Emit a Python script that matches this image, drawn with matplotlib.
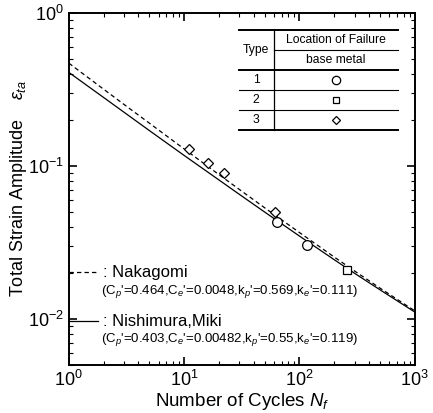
import matplotlib
matplotlib.use("Agg")
import matplotlib.pyplot as plt
from matplotlib.lines import Line2D

plt.rcParams['font.family'] = ['Liberation Sans', 'DejaVu Sans']
plt.rcParams['mathtext.fontset'] = 'custom'
plt.rcParams['mathtext.rm'] = 'Liberation Sans'
plt.rcParams['mathtext.it'] = 'Liberation Sans:italic'
plt.rcParams['axes.unicode_minus'] = False

# Fitted curves
n_cycles = [1, 2, 3, 5, 10, 20, 30, 50, 100, 200, 300, 500, 1000]
nakagomi = [0.469, 0.317, 0.2525, 0.190, 0.129, 0.0878, 0.0703, 0.0532,
            0.0367, 0.0254, 0.0206, 0.0159, 0.0113]
nishimura = [0.408, 0.280, 0.2245, 0.170, 0.117, 0.0810, 0.0653, 0.0499,
             0.0348, 0.0244, 0.0199, 0.0155, 0.0111]

# Test data
type1_n = [63.6, 115.8]
type1_e = [0.043, 0.0305]
type2_n = [257]
type2_e = [0.0209]
type3_n = [11.0, 16.0, 22.1, 61.1]
type3_e = [0.129, 0.105, 0.090, 0.050]

fig = plt.figure(figsize=(4.33, 4.13), dpi=100)
ax = fig.add_axes([0.159, 0.116, 0.799, 0.853])

ax.plot(n_cycles, nakagomi, 'k', linestyle=(0, (3.5, 2.5)), linewidth=0.9)
ax.plot(n_cycles, nishimura, 'k', linestyle='-', linewidth=0.9)

mk = dict(linestyle='none', markerfacecolor='white', markeredgecolor='black',
          markeredgewidth=0.9)
ax.plot(type1_n, type1_e, marker='o', markersize=7, **mk)
ax.plot(type2_n, type2_e, marker='s', markersize=5.5, **mk)
ax.plot(type3_n, type3_e, marker='D', markersize=5.5, **mk)

ax.set_xscale('log')
ax.set_yscale('log')
ax.set_xlim(1, 1000)
ax.set_ylim(0.005, 1)
ax.tick_params(which='both', direction='in', top=True, right=True, labelsize=13)
ax.tick_params(which='major', length=6, width=1.2)
ax.tick_params(which='minor', length=3, width=0.8)
for s in ax.spines.values():
    s.set_linewidth(1.4)

ax.set_xlabel('Number of Cycles $N_f$', fontsize=13.5, labelpad=1)
ax.set_ylabel('Total Strain Amplitude    $\\varepsilon_{ta}$', fontsize=13, labelpad=-1)

# Legend written by hand
tr = ax.transAxes
ax.add_line(Line2D([0.0, 0.085], [0.263, 0.263], transform=tr, color='k',
                   linestyle=(0, (3.5, 2.5)), linewidth=0.9))
ax.text(0.1, 0.263, ': Nakagomi', transform=tr, fontsize=12, va='center')
ax.text(0.094, 0.21,
        "(C$_p$'=0.464,C$_e$'=0.0048,k$_p$'=0.569,k$_e$'=0.111)",
        transform=tr, fontsize=9.5, va='center')
ax.add_line(Line2D([0.0, 0.085], [0.124, 0.124], transform=tr, color='k',
                   linestyle='-', linewidth=0.9))
ax.text(0.1, 0.124, ': Nishimura,Miki', transform=tr, fontsize=12, va='center')
ax.text(0.094, 0.074,
        "(C$_p$'=0.403,C$_e$'=0.00482,k$_p$'=0.55,k$_e$'=0.119)",
        transform=tr, fontsize=9.5, va='center')

# Inset table
x0, x1, xv = 0.491, 0.951, 0.592
rows_y = [0.951, 0.894, 0.838, 0.781, 0.724, 0.668]
for i, y in enumerate(rows_y):
    if i == 1:
        ax.add_line(Line2D([xv, x1], [y, y], transform=tr, color='k', linewidth=0.8))
    else:
        ax.add_line(Line2D([x0, x1], [y, y], transform=tr, color='k',
                           linewidth=1.4 if i in (0, 2, 5) else 0.8))
ax.add_line(Line2D([xv, xv], [rows_y[0], rows_y[-1]], transform=tr, color='k', linewidth=0.9))
ax.text((x0 + xv) / 2, (rows_y[0] + rows_y[2]) / 2, 'Type', transform=tr,
        fontsize=8.7, ha='center', va='center')
ax.text((xv + x1) / 2, (rows_y[0] + rows_y[1]) / 2, 'Location of Failure',
        transform=tr, fontsize=8.7, ha='center', va='center')
ax.text((xv + x1) / 2, (rows_y[1] + rows_y[2]) / 2, 'base metal',
        transform=tr, fontsize=8.7, ha='center', va='center')
for k, m, ms in [(0, 'o', 6), (1, 's', 4.5), (2, 'D', 4)]:
    yc = (rows_y[2 + k] + rows_y[3 + k]) / 2
    ax.text((x0 + xv) / 2, yc, str(k + 1), transform=tr, fontsize=8.7,
            ha='center', va='center')
    ax.plot([(xv + x1) / 2], [yc], marker=m, markersize=ms, transform=tr, **mk)

fig.savefig('out.png', dpi=100)
